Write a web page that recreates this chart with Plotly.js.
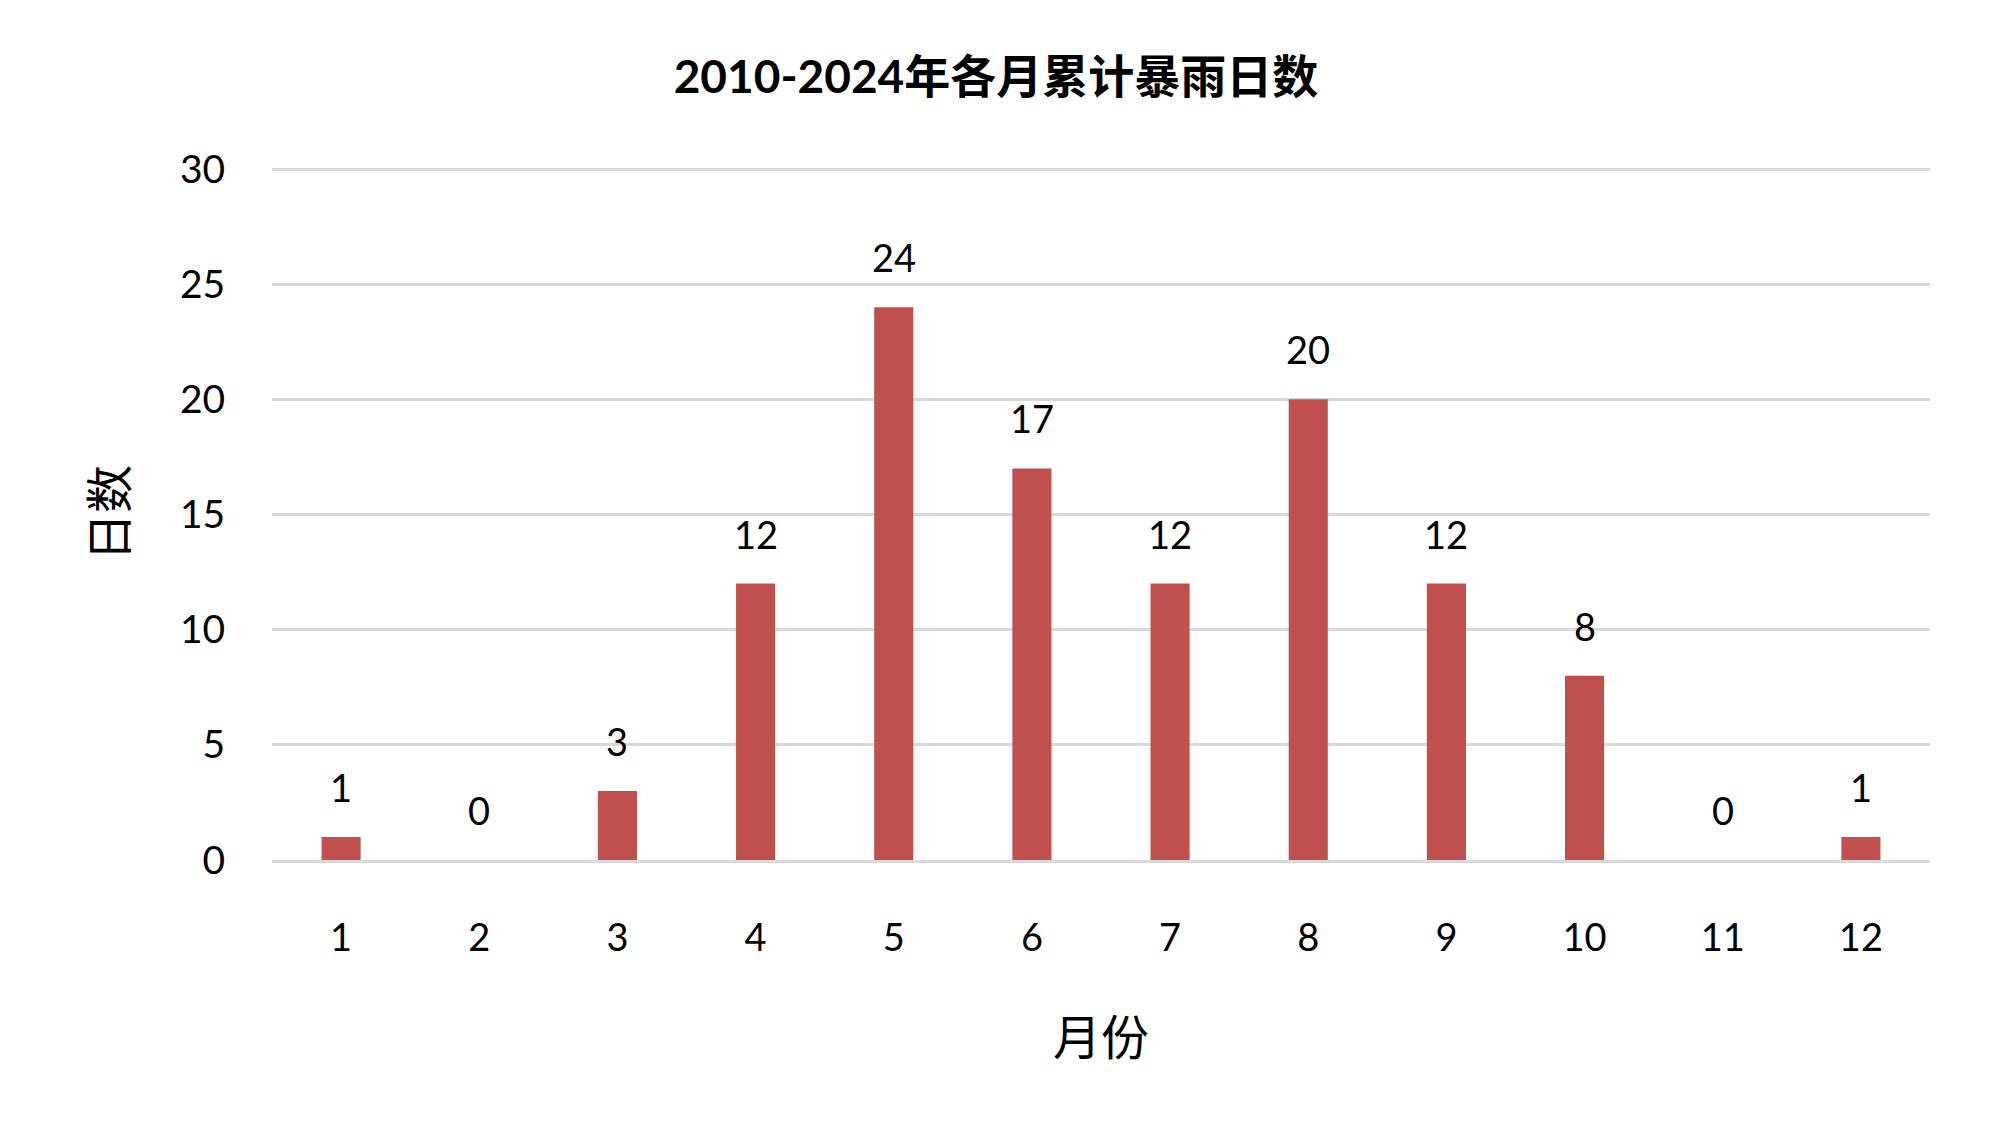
<!DOCTYPE html>
<html>
<head>
<meta charset="utf-8">
<script src="https://cdn.plot.ly/plotly-3.0.1.min.js"></script>
<style>html,body{margin:0;padding:0;background:#fff;}#chart{width:2000px;height:1147px;}</style>
</head>
<body>
<div id="chart"></div>
<script>
const months = [1, 2, 3, 4, 5, 6, 7, 8, 9, 10, 11, 12];
const stormDays = [1, 0, 3, 12, 24, 17, 12, 20, 12, 8, 0, 1];
const yTicks = [0, 5, 10, 15, 20, 25, 30];

const chartTitle = '2010-2024年各月累计暴雨日数';
const xTitle = '月份';
const yTitle = '日数';

const latin = 'Lato, "Noto Sans CJK SC", sans-serif';
const cjk = '"Noto Sans CJK SC", sans-serif';

const trace = {
  type: 'bar',
  x: months,
  y: stormDays,
  marker: {color: '#c0504d'},
  hoverinfo: 'x+y'
};

const annotations = months.map((m, i) => ({
  x: m, y: stormDays[i], xref: 'x', yref: 'y',
  text: String(stormDays[i]),
  showarrow: false, yanchor: 'middle', yshift: 50,
  font: {family: latin, size: 38, color: '#000'}
}));

annotations.push({
  xref: 'paper', yref: 'paper', x: -0.1001, y: 0.486,
  xanchor: 'center', yanchor: 'middle',
  text: yTitle, textangle: -90, showarrow: false,
  font: {family: cjk, size: 48, color: '#000'}
});

const layout = {
  width: 2000, height: 1147,
  margin: {l: 272, r: 70, t: 146, b: 287},
  paper_bgcolor: '#fff', plot_bgcolor: '#fff',
  showlegend: false,
  bargap: 0.717,
  title: {
    text: '<b>' + chartTitle + '</b>',
    font: {family: latin, size: 46, color: '#000'},
    x: 0.498, xanchor: 'center', y: 0.933, yanchor: 'middle'
  },
  xaxis: {
    type: 'linear',
    range: [0.5, 12.5],
    tickvals: months, ticktext: months.map(String),
    showgrid: false, zeroline: false,
    showline: true, linecolor: '#d9d9d9', linewidth: 3,
    ticks: 'outside', ticklen: 42, tickcolor: 'rgba(0,0,0,0)',
    tickfont: {family: latin, size: 38, color: '#000'},
    title: {text: xTitle, font: {family: cjk, size: 48, color: '#000'}, standoff: 64}
  },
  yaxis: {
    range: [0, 31],
    tickvals: yTicks, ticktext: yTicks.map(String),
    showgrid: true, gridcolor: '#d9d9d9', gridwidth: 3,
    zeroline: false, showline: false,
    ticks: 'outside', ticklen: 38, tickcolor: 'rgba(0,0,0,0)',
    tickfont: {family: latin, size: 39, color: '#000'}
  },
  annotations: annotations
};

Plotly.newPlot('chart', [trace], layout, {displayModeBar: false, staticPlot: true});
</script>
</body>
</html>
